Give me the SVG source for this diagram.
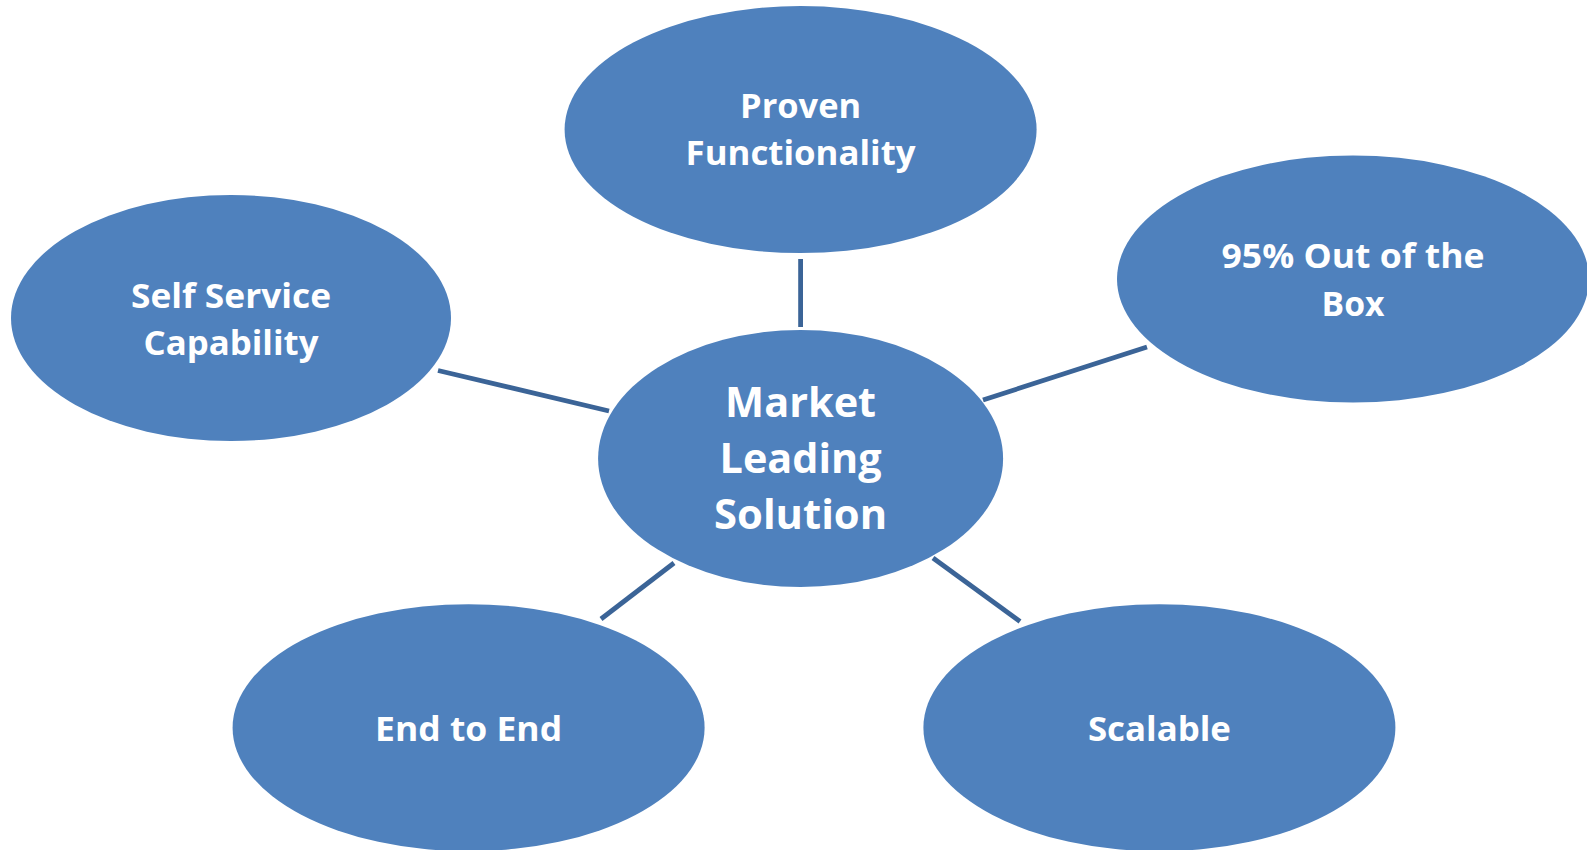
<svg xmlns="http://www.w3.org/2000/svg" width="1587" height="850" viewBox="0 0 1587 850">
<style>
.n{fill:#4f81bd;}
.t{fill:#ffffff;font-family:"Open Sans","Noto Sans","Liberation Sans",sans-serif;font-weight:bold;text-anchor:middle;}
.s{font-size:34px;}
.b{font-size:42px;}
.c{stroke:#3b6497;stroke-width:4.8;fill:none;}
</style>
<rect width="1587" height="850" fill="#ffffff"/>
<g id="connectors">
<line class="c" x1="800.6" y1="259" x2="800.6" y2="327"/>
<line class="c" x1="438" y1="370.5" x2="609" y2="411"/>
<line class="c" x1="983" y1="400" x2="1147" y2="347"/>
<line class="c" x1="674" y1="563" x2="601" y2="619"/>
<line class="c" x1="933" y1="558" x2="1020" y2="621.5"/>
</g>
<g id="proven">
<ellipse class="n" cx="800.6" cy="129.6" rx="236" ry="123.5"/>
<text class="t s" x="800.6" y="118" textLength="121" lengthAdjust="spacingAndGlyphs">Proven</text>
<text class="t s" x="800.6" y="165" textLength="230" lengthAdjust="spacingAndGlyphs">Functionality</text>
</g>
<g id="self-service">
<ellipse class="n" cx="231" cy="318" rx="220" ry="123"/>
<text class="t s" x="231" y="308" textLength="200" lengthAdjust="spacingAndGlyphs">Self Service</text>
<text class="t s" x="231" y="355" textLength="175" lengthAdjust="spacingAndGlyphs">Capability</text>
</g>
<g id="out-of-box">
<ellipse class="n" cx="1353" cy="279" rx="236" ry="123.5"/>
<text class="t s" x="1353" y="268" textLength="263" lengthAdjust="spacingAndGlyphs">95% Out of the</text>
<text class="t s" x="1353" y="316" textLength="63" lengthAdjust="spacingAndGlyphs">Box</text>
</g>
<g id="market">
<ellipse class="n" cx="800.6" cy="458.5" rx="202.5" ry="128.5"/>
<text class="t b" x="800.6" y="417" textLength="151" lengthAdjust="spacingAndGlyphs">Market</text>
<text class="t b" x="800.6" y="473" textLength="162" lengthAdjust="spacingAndGlyphs">Leading</text>
<text class="t b" x="800.6" y="529" textLength="173" lengthAdjust="spacingAndGlyphs">Solution</text>
</g>
<g id="end-to-end">
<ellipse class="n" cx="468.6" cy="727.7" rx="236" ry="123.5"/>
<text class="t s" x="468.6" y="741" textLength="187" lengthAdjust="spacingAndGlyphs">End to End</text>
</g>
<g id="scalable">
<ellipse class="n" cx="1159.4" cy="727.7" rx="236" ry="123.5"/>
<text class="t s" x="1159.4" y="741" textLength="143" lengthAdjust="spacingAndGlyphs">Scalable</text>
</g>
</svg>
